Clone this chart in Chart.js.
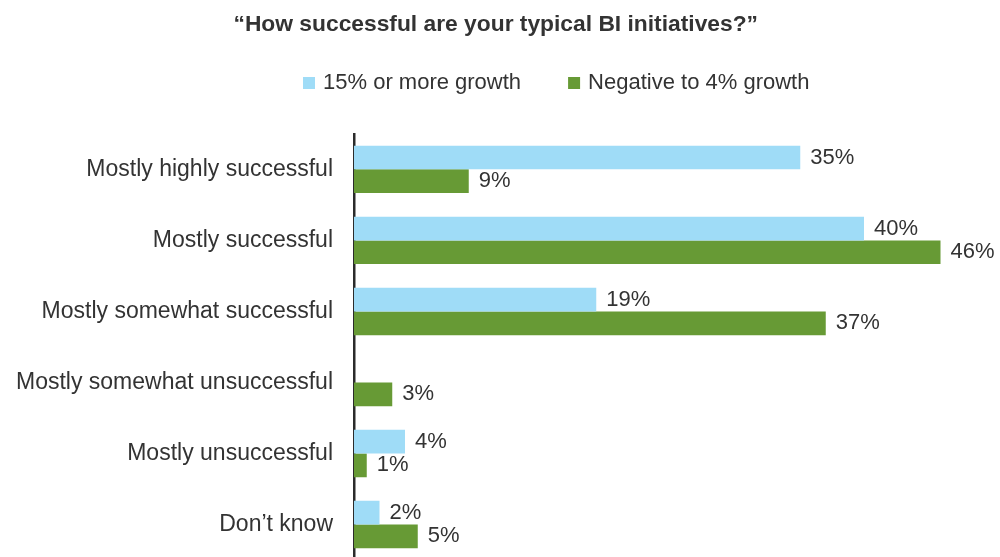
<!DOCTYPE html>
<html>
<head>
<meta charset="utf-8">
<script src="https://cdn.jsdelivr.net/npm/chart.js@4/dist/chart.umd.min.js"></script>
<style>
  html, body { margin: 0; padding: 0; background: #fff; overflow: hidden; }
  canvas { display: block; }
</style>
</head>
<body>
<canvas id="chart" width="1000" height="560"></canvas>
<script>
const categories = [
  'Mostly highly successful',
  'Mostly successful',
  'Mostly somewhat successful',
  'Mostly somewhat unsuccessful',
  'Mostly unsuccessful',
  'Don’t know',
];
const seriesNames = ['15% or more growth', 'Negative to 4% growth'];
const highGrowth = [35, 40, 19, null, 4, 2];
const lowGrowth = [9, 46, 37, 3, 1, 5];
const xMax = 50;

const FONT = '"Liberation Sans", Arial, sans-serif';
const TEXT = '#333333';

Chart.defaults.font.family = FONT;
Chart.defaults.color = TEXT;

// percent labels at the end of each bar
const barLabels = {
  id: 'barLabels',
  afterDatasetsDraw(chart) {
    const { ctx } = chart;
    ctx.save();
    ctx.font = `22px ${FONT}`;
    ctx.fillStyle = TEXT;
    ctx.textBaseline = 'middle';
    ctx.textAlign = 'left';
    chart.data.datasets.forEach((ds, i) => {
      chart.getDatasetMeta(i).data.forEach((bar, j) => {
        const v = ds.data[j];
        if (v == null) return;
        ctx.fillText(`${v}%`, bar.x + 10, bar.y);
      });
    });
    ctx.restore();
  },
};

// legend row under the title, offset like the original
const topLegend = {
  id: 'topLegend',
  afterDraw(chart, args, opts) {
    const { ctx } = chart;
    ctx.save();
    ctx.font = `22px ${FONT}`;
    ctx.textBaseline = 'middle';
    ctx.textAlign = 'left';
    let x = opts.x;
    chart.data.datasets.forEach((ds) => {
      ctx.fillStyle = ds.backgroundColor;
      ctx.fillRect(x, opts.y - opts.box / 2, opts.box, opts.box);
      x += opts.box + opts.gap;
      ctx.fillStyle = TEXT;
      ctx.fillText(ds.label, x, opts.y);
      x += ctx.measureText(ds.label).width + opts.spacing;
    });
    ctx.restore();
  },
};

new Chart(document.getElementById('chart'), {
  type: 'bar',
  data: {
    labels: categories,
    datasets: [
      {
        label: seriesNames[0],
        data: highGrowth,
        backgroundColor: '#9fdcf7',
        categoryPercentage: 0.668,
        barPercentage: 1,
      },
      {
        label: seriesNames[1],
        data: lowGrowth,
        backgroundColor: '#679a35',
        categoryPercentage: 0.668,
        barPercentage: 1,
      },
    ],
  },
  plugins: [barLabels, topLegend],
  options: {
    indexAxis: 'y',
    responsive: false,
    devicePixelRatio: 1,
    animation: false,
    layout: { padding: { left: 0, right: 8.5, top: 0, bottom: 0 } },
    plugins: {
      legend: { display: false },
      tooltip: { enabled: false },
      title: {
        display: true,
        text: '“How successful are your typical BI initiatives?”',
        color: TEXT,
        font: { size: 22.8, weight: 'bold' },
        padding: { top: 11.5, bottom: 95 },
      },
      topLegend: { x: 303, y: 83, box: 12, gap: 8, spacing: 47 },
    },
    scales: {
      x: {
        display: false,
        min: 0,
        max: xMax,
      },
      y: {
        z: 1,
        grid: { display: false, drawTicks: false },
        border: { display: true, color: '#2b2b2b', width: 2.5 },
        ticks: { padding: 21, color: TEXT, font: { size: 23 } },
        afterFit(scale) {
          scale.width = 354;
          // labels sit inside their bands, no edge padding needed
          scale.paddingTop = 0;
          scale.paddingBottom = 0;
        },
      },
    },
  },
});
</script>
</body>
</html>
